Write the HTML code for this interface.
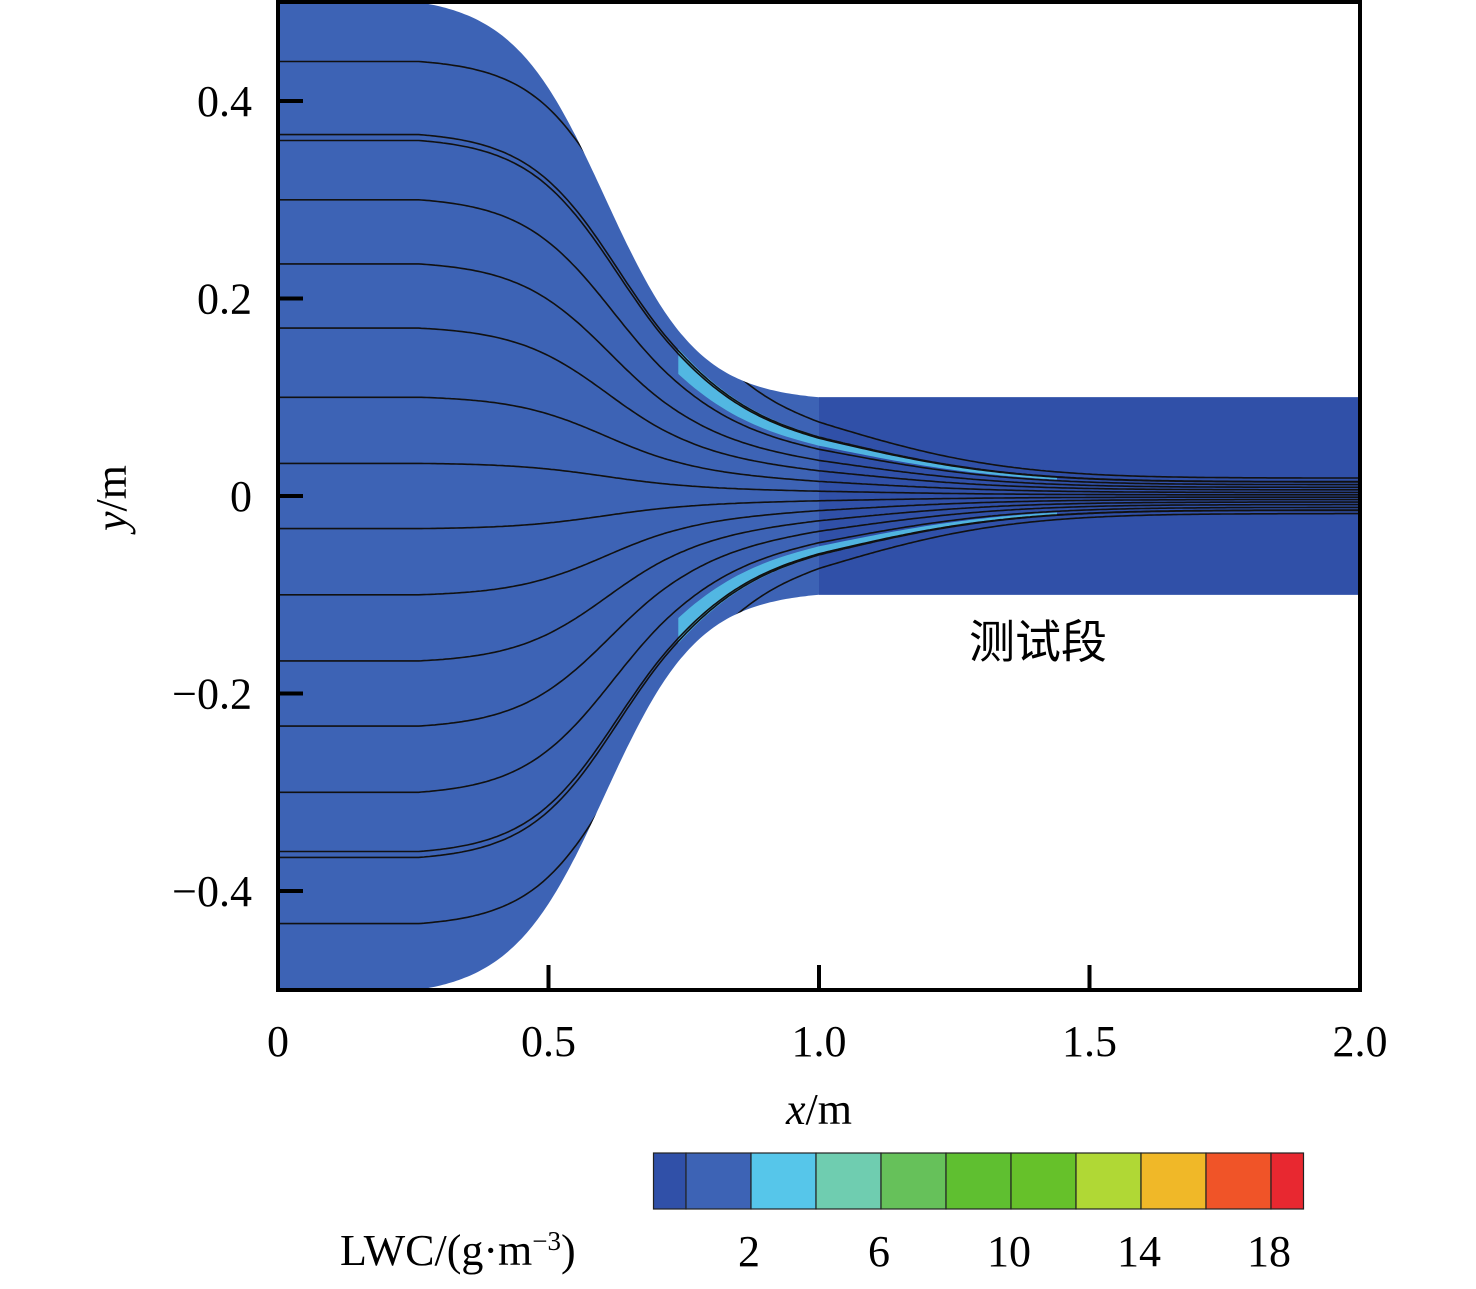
<!DOCTYPE html>
<html><head><meta charset="utf-8">
<style>
html,body{margin:0;padding:0;background:#fff;}
svg{display:block;font-family:"Liberation Serif","Noto Serif CJK SC",serif;}
</style></head>
<body>
<svg id="chart" width="1476" height="1289" viewBox="0 0 1476 1289">
<defs><clipPath id="clipDomain"><path id="clipPath" d=""/></clipPath></defs>
<g id="plot"></g>
<g id="axes"></g>
<text x="1038" y="658" font-size="46" text-anchor="middle" font-family="'Liberation Sans','Noto Sans CJK SC',sans-serif">测试段</text>
<text x="819" y="1124" font-size="44" text-anchor="middle"><tspan font-style="italic">x</tspan>/m</text>
<text transform="translate(126,498) rotate(-90)" font-size="44" text-anchor="middle"><tspan font-style="italic">y</tspan>/m</text>
<g id="cbar"></g>
<text x="340" y="1265" font-size="44">LWC/(g·m<tspan baseline-shift="super" font-size="27">−3</tspan>)</text>
</svg>
<script>
// data
const xTicks = [0, 0.5, 1.0, 1.5, 2.0];
const xTickLabels = ["0", "0.5", "1.0", "1.5", "2.0"];
const yTicks = [0.4, 0.2, 0, -0.2, -0.4];
const yTickLabels = ["0.4", "0.2", "0", "\u22120.2", "\u22120.4"];
const inletHalfWidth = [0.5];
const testHalfWidth = [0.1];
const contractionRange = [0.26, 1.0];
const contractionCenter = [0.605];
const streamStarts = [0.44, 0.366, 0.36, 0.30, 0.235, 0.17, 0.10, 0.033, -0.033, -0.10, -0.167, -0.233, -0.30, -0.36, -0.366, -0.433];
const cbarValues = [-1, 0, 2, 4, 6, 8, 10, 12, 14, 16, 18, 19];
const cbarColors = ["#3050a8","#3d63b5","#56c6ea","#6fcdb0","#66c15a","#5fbf30","#66c12a","#b0d835","#f0b828","#f05428","#e82830"];
const cbarTicks = [2, 6, 10, 14, 18];

const NS = "http://www.w3.org/2000/svg";
const X0 = 278, X1 = 1360, Y0px = 496, PPM = 987.5;
const sx = v => X0 + (X1 - X0) * v / 2.0;
const sy = v => Y0px - v * PPM;
function mk(tag, attrs, parent) { const e = document.createElementNS(NS, tag); for (const k in attrs) e.setAttribute(k, attrs[k]); parent.appendChild(e); return e; }
const L = x => 1 / (1 + Math.exp(-11.5 * (x - contractionCenter[0])));
function wall(x) {
  const a = contractionRange[0], b = contractionRange[1];
  if (x <= a) return inletHalfWidth[0];
  if (x >= b) return testHalfWidth[0];
  const s = (L(x) - L(a)) / (L(b) - L(a));
  return inletHalfWidth[0] - (inletHalfWidth[0] - testHalfWidth[0]) * s;
}
const plot = document.getElementById('plot');
let up = [], lo = [];
for (let x = 0; x <= 2.0001; x += 0.005) { up.push(sx(x).toFixed(1) + "," + sy(wall(x)).toFixed(1)); lo.unshift(sx(x).toFixed(1) + "," + sy(-wall(x)).toFixed(1)); }
const dPath = "M" + up.join(" L") + " L" + lo.join(" L") + " Z";
document.getElementById('clipPath').setAttribute('d', dPath);
const dom = mk('path', { d: dPath, fill: "#3d63b5" }, plot);


const ts = mk('rect', { x: sx(1.0), y: sy(0.1), width: sx(2.0) - sx(1.0), height: sy(-0.1) - sy(0.1), fill: "#3050a8" }, plot);


function lineY(y0, x) {
  const r = wall(x) / 0.5;
  const d = Math.max(0, x - 0.72);
  const h = 0.18 + 0.82 * Math.exp(-d * d * 5);
  const q = (y0 / 0.5) * (y0 / 0.5);
  const k = 1 - 0.6 / (1 + Math.exp(-(x - 0.85) * 20));
  return y0 * r * h * (1 + 0.6 * q * (1 - r) * k);
}
[1, -1].forEach(sg => {
  let a = [], b = [];
  for (let x = 0.74; x <= 1.45; x += 0.01) {
    a.push(sx(x).toFixed(1) + "," + sy(lineY(sg * 0.37, x)).toFixed(1));
    b.unshift(sx(x).toFixed(1) + "," + sy(lineY(sg * 0.32, x)).toFixed(1));
  }
  const band = mk('path', { d: "M" + a.join(" L") + " L" + b.join(" L") + " Z", fill: "#56c6ea", "clip-path": "url(#clipDomain)", opacity: 0.85 }, plot);
  
  
});
const sgp = mk('g', { "clip-path": "url(#clipDomain)" }, plot);
streamStarts.forEach((y0, i) => {
  let pts = [];
  for (let x = 0; x <= 2.0001; x += 0.005) pts.push(sx(x).toFixed(1) + "," + sy(lineY(y0, x)).toFixed(1));
  const p = mk('polyline', { points: pts.join(" "), fill: "none", stroke: "#111", "stroke-width": 1.6 }, sgp);
  
  
});
const ax = document.getElementById('axes');
const fr = mk('rect', { x: X0, y: 2, width: X1 - X0, height: 988, fill: "none", stroke: "#000", "stroke-width": 4 }, ax);


xTicks.forEach((v, i) => {
  const l = mk('line', { x1: sx(v), x2: sx(v), y1: 990, y2: 965, stroke: "#000", "stroke-width": 4 }, ax);
  
  
  const t = mk('text', { x: sx(v), y: 1056, "font-size": 44, "text-anchor": "middle" }, ax);
  t.textContent = xTickLabels[i];
  
  
});
yTicks.forEach((v, i) => {
  const l = mk('line', { x1: X0, x2: X0 + 25, y1: sy(v), y2: sy(v), stroke: "#000", "stroke-width": 4 }, ax);
  
  
  const t = mk('text', { x: 252, y: sy(v) + 15, "font-size": 44, "text-anchor": "end" }, ax);
  t.textContent = yTickLabels[i];
  
  
});
const cb = document.getElementById('cbar');
const cx = v => 686 + v * 32.5;
for (let i = 0; i < cbarColors.length; i++) {
  const xa = cx(cbarValues[i]), xb = cx(cbarValues[i + 1]);
  const r = mk('rect', { x: xa, y: 1153, width: xb - xa, height: 56, fill: cbarColors[i], stroke: "#222", "stroke-width": 1.2 }, cb);
  
  
}
cbarTicks.forEach(v => {
  const t = mk('text', { x: cx(v) - 2, y: 1266, "font-size": 44, "text-anchor": "middle" }, cb);
  t.textContent = v;
  
  
});
</script>
</body></html>
